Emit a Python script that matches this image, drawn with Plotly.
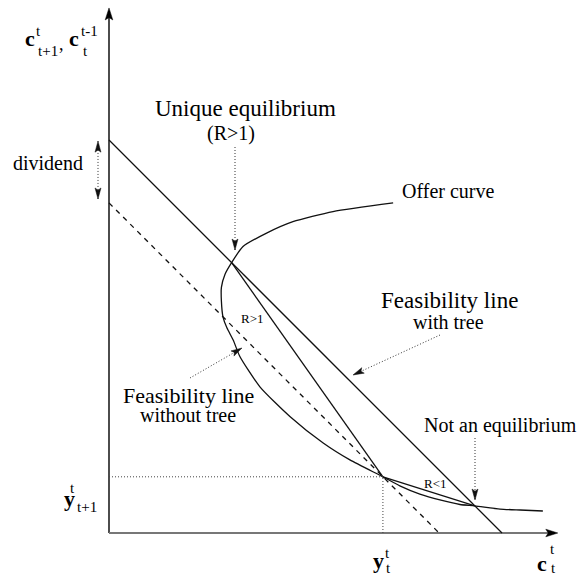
import math
import plotly.graph_objects as go

# ---------------- data (economic units) ----------------
tree_line_x = [0.0, 10.0]          # feasibility line with tree: c + c' = 10
tree_line_y = [10.0, 0.0]
notree_line_x = [0.0, 8.4]         # feasibility line without tree: c + c' = 8.4
notree_line_y = [8.4, 0.0]
endow = [6.97, 1.43]               # endowment (y_t^t, y_{t+1}^t)
unique_eq = [3.12, 6.88]           # unique equilibrium (R>1)
not_eq = [9.31, 0.69]              # not an equilibrium (R<1)
offer_x = [7.23, 5.70, 4.68, 4.01, 3.41, 3.12, 2.95, 2.86, 2.86, 2.90, 3.00, 3.16, 3.33,
           3.84, 4.61, 5.45, 6.13, 6.97, 7.40, 7.91, 8.42, 8.93, 9.31, 9.95, 10.46, 11.04]
offer_y = [8.40, 8.18, 7.92, 7.63, 7.29, 6.88, 6.58, 6.25, 5.90, 5.50, 5.22, 4.91, 4.49,
           3.72, 2.96, 2.29, 1.86, 1.43, 1.20, 0.99, 0.84, 0.725, 0.69, 0.61, 0.585, 0.56]
x_axis_end = 11.42
y_axis_end = 13.36
dividend_span = [8.5, 9.97]

# ---------------- geometry helpers ----------------
W, H = 580, 575
OX, OY, S = 109.0, 533.0, 39.3   # pixel of origin, pixels per unit


def P(px, py):
    return ((px - OX) / S, (OY - py) / S)


FONT = "Liberation Serif, DejaVu Serif, serif"
fig = go.Figure()


def line(xs, ys, color="#111", width=1.3, dash=None):
    fig.add_trace(go.Scatter(x=xs, y=ys, mode="lines", hoverinfo="skip",
                             line=dict(color=color, width=width, dash=dash)))


def head(tip, tail, L=11.0, w=3.0, color="#111"):
    dx, dy = tip[0] - tail[0], tip[1] - tail[1]
    n = math.hypot(dx, dy)
    ux, uy = dx / n, dy / n
    Lp, wp = L / S, w / S
    bx, by = tip[0] - ux * Lp, tip[1] - uy * Lp
    nx, ny = -uy, ux
    nxp, nyp = tip[0] - ux * Lp * 0.8, tip[1] - uy * Lp * 0.8
    xs = [tip[0], bx + nx * wp, nxp, bx - nx * wp, tip[0]]
    ys = [tip[1], by + ny * wp, nyp, by - ny * wp, tip[1]]
    fig.add_trace(go.Scatter(x=xs, y=ys, mode="lines", fill="toself", fillcolor=color,
                             line=dict(color=color, width=0.5), hoverinfo="skip"))


def dotted_arrow(tail, tip, both=False):
    line([tail[0], tip[0]], [tail[1], tip[1]], color="#333", width=1, dash="1px,2px")
    head(tip, tail)
    if both:
        head(tail, tip)


def text(px, py, s, size=20, bold=False):
    x, y = P(px, py)
    if bold:
        s = "<b>" + s + "</b>"
    fig.add_annotation(x=x, y=y, xref="x", yref="y", text=s, showarrow=False,
                       xanchor="center", yanchor="middle",
                       font=dict(family=FONT, size=size, color="black"))


# ---------------- axes ----------------
line([0, 0], [0, y_axis_end - 0.2], color="#000", width=1.4)
head([0, y_axis_end], [0, 0], L=12, w=3.8, color="#000")
line([0, x_axis_end - 0.2], [0, 0], color="#777", width=2.2)
head([x_axis_end, 0], [0, 0], L=12, w=3.8, color="#000")

# ---------------- lines ----------------
line(tree_line_x, tree_line_y)
line(notree_line_x, notree_line_y, dash="5px,5px")
line([unique_eq[0], endow[0]], [unique_eq[1], endow[1]])
line([endow[0], not_eq[0]], [endow[1], not_eq[1]])
fig.add_trace(go.Scatter(x=offer_x, y=offer_y, mode="lines", hoverinfo="skip",
                         line=dict(color="#111", width=1.3, shape="spline", smoothing=0.6)))

# endowment projections
line([0, endow[0]], [endow[1], endow[1]], color="#444", width=1, dash="1px,2px")
line([endow[0], endow[0]], [0, endow[1]], color="#444", width=1, dash="1px,2px")

# ---------------- annotation arrows ----------------
dotted_arrow([-0.28, dividend_span[0]], [-0.28, dividend_span[1]], both=True)
dotted_arrow(list(P(235, 147)), list(P(235, 250)))
dotted_arrow(list(P(440, 335)), list(P(353, 375)))
dotted_arrow(list(P(190, 378)), list(P(242, 348)))
dotted_arrow(list(P(475, 438)), list(P(475, 500)))

# ---------------- texts ----------------
text(245, 108, "Unique equilibrium", 23)
text(231, 133, "(R&gt;1)", 20)
text(448, 191, "Offer curve", 20)
text(449, 300, "Feasibility line", 23)
text(448, 322, "with tree", 20)
text(188, 395, "Feasibility line", 22)
text(188, 415, "without tree", 20)
text(500, 425, "Not an equilibrium", 20)
text(48, 163, "dividend", 20)
text(252, 318, "R&gt;1", 13)
text(435, 483, "R&lt;1", 13)

# axis labels
text(30, 38, "c", 22, bold=True)
text(38, 31, "t", 15)
text(48, 51, "t+1", 15)
text(61, 44, ",", 18)
text(74, 38, "c", 22, bold=True)
text(89, 31, "t-1", 15)
text(85, 51, "t", 15)

text(69, 498, "y", 22, bold=True)
text(72, 488, "t", 15)
text(87, 507, "t+1", 15)

text(378, 560, "y", 22, bold=True)
text(387, 553, "t", 15)
text(388, 568, "t", 15)

text(542, 563, "c", 22, bold=True)
text(552, 549, "t", 15)
text(553, 568, "t", 15)

x0, _ = P(0, 0)
x1, _ = P(W, 0)
_, y0 = P(0, H)
_, y1 = P(0, 0)
fig.update_layout(
    width=W, height=H, margin=dict(l=0, r=0, t=0, b=0),
    paper_bgcolor="white", plot_bgcolor="white", showlegend=False,
    xaxis=dict(range=[x0, x1], visible=False, fixedrange=True),
    yaxis=dict(range=[y0, y1], visible=False, fixedrange=True),
)
fig.write_html("out.html", config={"displayModeBar": False},
               post_script="document.body.style.margin='0';document.body.style.overflow='hidden';")
